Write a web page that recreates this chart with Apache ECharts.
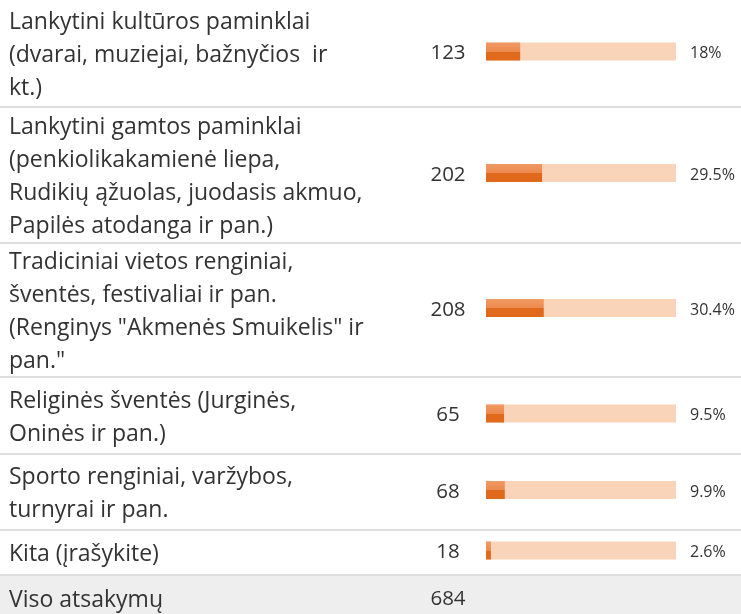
<!DOCTYPE html>
<html>
<head>
<meta charset="utf-8">
<script src="https://cdn.jsdelivr.net/npm/echarts@6/dist/echarts.min.js"></script>
<style>
  html, body { margin: 0; padding: 0; background: #fff; }
  #chart { width: 741px; height: 614px; }
</style>
</head>
<body>
<div id="chart"></div>
<script>
// Survey answers: option text, number of answers, share of answers (%)
const categories = [
  'Lankytini kultūros paminklai\n(dvarai, muziejai, bažnyčios  ir\nkt.)',
  'Lankytini gamtos paminklai\n(penkiolikakamienė liepa,\nRudikių ąžuolas, juodasis akmuo,\nPapilės atodanga ir pan.)',
  'Tradiciniai vietos renginiai,\nšventės, festivaliai ir pan.\n(Renginys "Akmenės Smuikelis" ir\npan."',
  'Religinės šventės (Jurginės,\nOninės ir pan.)',
  'Sporto renginiai, varžybos,\nturnyrai ir pan.',
  'Kita (įrašykite)'
];
const counts = [123, 202, 208, 65, 68, 18];
const percents = [18, 29.5, 30.4, 9.5, 9.9, 2.6];
const totalLabel = 'Viso atsakymų';
const total = 684;
const fullScale = 100;

// Row layout (pixel bands for each answer row)
const rowTops = [0, 107, 243, 377, 454, 530];
const rowBottoms = [107, 243, 377, 454, 530, 575];
const footerTop = 575;
const W = 741, H = 614;
const BAR_LEFT = 486;

const FONT = 'Open Sans';
const TEXT = '#333333';

const fillGradient = new echarts.graphic.LinearGradient(0, 0, 0, 1, [
  { offset: 0, color: '#f09a64' },
  { offset: 0.5, color: '#ec8a4e' },
  { offset: 0.5, color: '#e0691c' },
  { offset: 1, color: '#e0691c' }
]);

const grid = [], xAxis = [], yAxis = [], series = [];
categories.forEach((cat, i) => {
  grid.push({
    left: BAR_LEFT, right: 65,
    top: rowTops[i], height: rowBottoms[i] - rowTops[i] - 4,
    outerBoundsMode: 'none'
  });
  xAxis.push({ gridIndex: i, type: 'value', min: 0, max: fullScale, show: false });
  yAxis.push({
    gridIndex: i, type: 'category', data: [cat],
    axisLine: { show: false }, axisTick: { show: false }, splitLine: { show: false },
    axisLabel: { show: false }
  });
  // track, carrying the share label on its right
  series.push({
    type: 'bar', xAxisIndex: i, yAxisIndex: i, silent: true,
    data: [fullScale], barWidth: 18,
    itemStyle: { color: '#f9d4b9' },
    label: {
      show: true, position: 'right', distance: 14, offset: [0, 2],
      formatter: percents[i] + '%',
      fontFamily: FONT, fontSize: 16, color: TEXT
    }
  });
  // filled share, carrying the answer count on its left
  series.push({
    type: 'bar', xAxisIndex: i, yAxisIndex: i, silent: true,
    data: [percents[i]], barWidth: 18, barGap: '-100%',
    itemStyle: { color: fillGradient },
    label: {
      show: true, position: [-38, '50%'], align: 'center', verticalAlign: 'middle',
      offset: [0, 2],
      formatter: String(counts[i]),
      fontFamily: FONT, fontSize: 20.5, color: TEXT
    }
  });
  // answer option text at the row's left edge
  series.push({
    type: 'bar', xAxisIndex: i, yAxisIndex: i, silent: true,
    data: [fullScale], barWidth: 18, barGap: '-100%',
    itemStyle: { color: 'rgba(0,0,0,0)' },
    label: {
      show: true, position: [9 - BAR_LEFT, '50%'], align: 'left', verticalAlign: 'middle',
      offset: [0, 4],
      formatter: cat,
      fontFamily: FONT, fontSize: 23, lineHeight: 33, color: TEXT
    }
  });
});

// row separators and the totals footer
const graphic = [];
rowBottoms.forEach(y => {
  graphic.push({
    type: 'rect', shape: { x: 0, y: y - 1, width: W, height: 2 },
    style: { fill: '#dedede' }, silent: true
  });
});
graphic.push({
  type: 'rect', shape: { x: 0, y: footerTop + 1, width: W, height: H - footerTop - 1 },
  style: { fill: '#eeeeee' }, silent: true, z: -1
});
graphic.push({
  type: 'text', x: 9, y: 600,
  style: { text: totalLabel, font: '23px "' + FONT + '"', fill: TEXT, verticalAlign: 'middle', align: 'left' }
});
graphic.push({
  type: 'text', x: 448, y: 599,
  style: { text: String(total), font: '20.5px "' + FONT + '"', fill: TEXT, verticalAlign: 'middle', align: 'center' }
});

const chart = echarts.init(document.getElementById('chart'));
chart.setOption({
  animation: false,
  backgroundColor: '#ffffff',
  grid, xAxis, yAxis, series, graphic
});
</script>
</body>
</html>
